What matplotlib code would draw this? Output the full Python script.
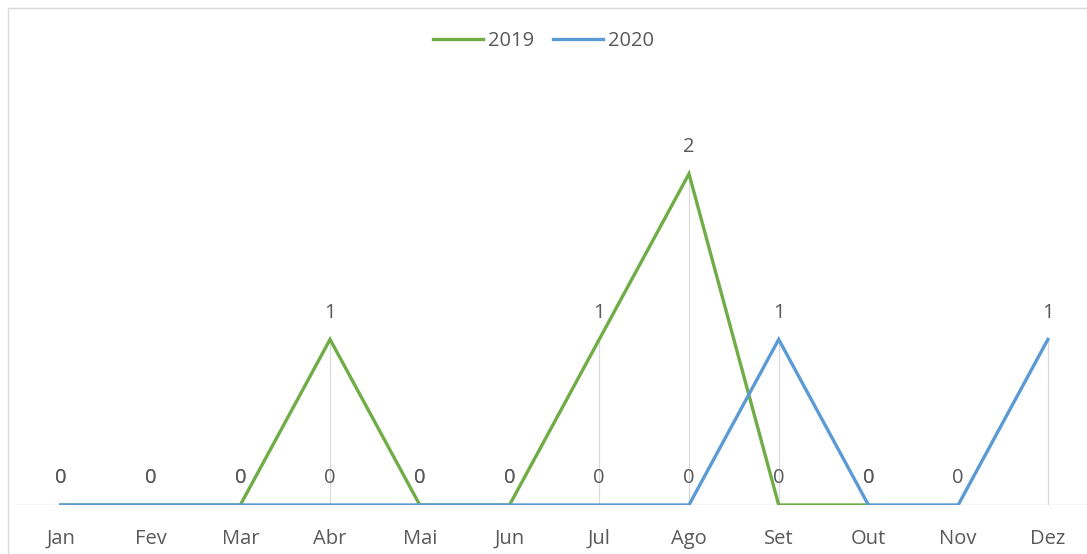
import numpy as np
import matplotlib
matplotlib.use('Agg')
import matplotlib.pyplot as plt
from matplotlib.patches import Rectangle

# Data
months = ["Jan", "Fev", "Mar", "Abr", "Mai", "Jun", "Jul", "Ago", "Set", "Out", "Nov", "Dez"]
series_2019 = [0, 0, 0, 1, 0, 0, 1, 2, 0, 0]          # no values for Nov/Dez
series_2020 = [0, 0, 0, 0, 0, 0, 0, 0, 1, 0, 0, 1]

GREEN = "#70AD47"
BLUE = "#5B9BD5"
TEXT = "#595959"
GRID = "#D9D9D9"

plt.rcParams['font.family'] = ['Open Sans', 'DejaVu Sans']

W, H = 1087, 554
fig = plt.figure(figsize=(W / 100, H / 100), dpi=100)

# chart area border (cut off on right/bottom like the reference)
fig.patches.append(Rectangle((8 / W, -0.1), 1.2, 1 - 8 / H + 0.1, transform=fig.transFigure,
                             fill=False, edgecolor=GRID, linewidth=1.0))

ax = fig.add_axes([16 / W, 49 / H, (W - 16) / W, 414 / H])
x_all = np.arange(len(months))

# drop lines from the highest point of each category down to the axis
tops = []
for i in range(len(months)):
    vals = [series_2020[i]]
    if i < len(series_2019):
        vals.append(series_2019[i])
    tops.append(max(vals))
ax.vlines(x_all, 0, tops, color=GRID, linewidth=0.8, zorder=1)

ax.axhline(0, color=GRID, linewidth=1.0, zorder=1)

ax.plot(np.arange(len(series_2019)), series_2019, color=GREEN, linewidth=2.4,
        label="2019", zorder=3, solid_joinstyle='miter')
ax.plot(x_all, series_2020, color=BLUE, linewidth=2.4, label="2020", zorder=4,
        solid_joinstyle='miter')

# data labels
for xs, ys in ((np.arange(len(series_2019)), series_2019), (x_all, series_2020)):
    for xi, yi in zip(xs, ys):
        ax.annotate(str(yi), (xi, yi), xytext=(0, 12), textcoords='offset points',
                    ha='center', va='bottom', fontsize=14.5, color=TEXT, zorder=5)

ax.set_xlim(-0.5, (W - 16) / 89.73 - 0.5)
ax.set_ylim(0, 2.5)
ax.set_xticks(x_all)
ax.set_xticklabels(months, fontsize=14.5, color=TEXT)
ax.tick_params(axis='x', length=0, pad=17)
ax.set_yticks([])
for s in ax.spines.values():
    s.set_visible(False)
ax.patch.set_alpha(0)

fig.legend(loc='center', bbox_to_anchor=(0.5, 1 - 41 / H), ncol=2, frameon=False,
           fontsize=14.5, labelcolor=TEXT, handlelength=2.5, handletextpad=0.25,
           columnspacing=0.9)

fig.savefig("out.png", dpi=100)
